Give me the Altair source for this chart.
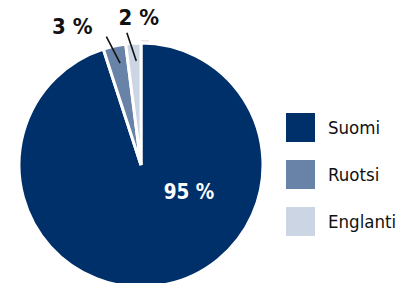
import math
import altair as alt
import pandas as pd

categories = ["Suomi", "Ruotsi", "Englanti"]
values = [95, 3, 2]
labels = ["95 %", "3 %", "2 %"]
colors = ["#003069", "#6882a8", "#cbd5e3"]

# layout / style constants (chart coordinates, page minus 8px margin)
CX, CY, R = 133, 157, 122
LEADER_R1, LEADER_R2 = 104, 133
LEADER_IN_DEG, LEADER_OUT_DEG = 1.0, -2.5
LABEL_OFFSETS = {"Ruotsi": (-34, -10), "Englanti": (12, -15)}
INNER_LABEL = (48, 28)

total = sum(values)
cum = 0
mids = []
for v in values:
    mids.append((cum + v / 2) / total * 360)
    cum += v

df = pd.DataFrame({"cat": categories, "val": values, "ord": list(range(len(values))), "label": labels})

leaders = []
outer_labels = []
for c, m, lab in zip(categories, mids, labels):
    if c not in LABEL_OFFSETS:
        continue
    a1 = math.radians(m + LEADER_IN_DEG)
    a2 = math.radians(m + LEADER_OUT_DEG)
    x1, y1 = CX + LEADER_R1 * math.sin(a1), CY - LEADER_R1 * math.cos(a1)
    x2, y2 = CX + LEADER_R2 * math.sin(a2), CY - LEADER_R2 * math.cos(a2)
    leaders.append({"x": x1, "y": y1, "x2": x2, "y2": y2})
    dx, dy = LABEL_OFFSETS[c]
    outer_labels.append({"x": x2 + dx, "y": y2 + dy, "label": lab})
inner_labels = [{"x": CX + INNER_LABEL[0], "y": CY + INNER_LABEL[1], "label": labels[0]}]

color_scale = alt.Scale(domain=categories, range=colors)

ring = alt.Chart(pd.DataFrame({"v": [1]})).mark_arc(
    radius=R + 3, fill="#e4e4e4", strokeWidth=0
).encode(theta=alt.Theta("v:Q"), x=alt.value(CX), y=alt.value(CY))

ring_gap = alt.Chart(pd.DataFrame({"v": [1]})).mark_arc(
    radius=R + 1.5, fill="white"
).encode(theta=alt.Theta("v:Q"), x=alt.value(CX), y=alt.value(CY))

pie = alt.Chart(df).mark_arc(radius=R, stroke="white", strokeWidth=3).encode(
    theta=alt.Theta("val:Q", stack=True),
    order=alt.Order("ord:Q"),
    color=alt.Color(
        "cat:N",
        scale=color_scale,
        sort=categories,
        legend=alt.Legend(
            title=None,
            orient="none",
            legendX=278,
            legendY=105,
            symbolType="square",
            symbolSize=841,
            symbolStrokeWidth=0,
            symbolOpacity=1,
            rowPadding=18,
            labelOffset=13,
            labelFont="DejaVu Sans Condensed",
            labelFontSize=18.5,
            labelColor="#111111",
            padding=0,
        ),
    ),
    x=alt.value(CX),
    y=alt.value(CY),
)

rules = alt.Chart(pd.DataFrame(leaders)).mark_rule(color="#111111", strokeWidth=1.6).encode(
    x=alt.X("x:Q", scale=None), y=alt.Y("y:Q", scale=None),
    x2="x2:Q", y2="y2:Q",
)

outer_text = alt.Chart(pd.DataFrame(outer_labels)).mark_text(
    font="DejaVu Sans Condensed", fontWeight="bold", fontSize=22, color="#111111",
    align="center", baseline="middle",
).encode(x=alt.X("x:Q", scale=None), y=alt.Y("y:Q", scale=None), text="label:N")

inner_text = alt.Chart(pd.DataFrame(inner_labels)).mark_text(
    font="DejaVu Sans Condensed", fontWeight="bold", fontSize=20.5, color="white",
    align="center", baseline="middle",
).encode(x=alt.X("x:Q", scale=None), y=alt.Y("y:Q", scale=None), text="label:N")

chart = alt.layer(ring, ring_gap, pie, rules, outer_text, inner_text).properties(
    width=393, height=275, padding=0, autosize=alt.AutoSizeParams(type="none")
).configure_view(stroke=None)

chart.save("out.html", embed_options={"renderer": "svg", "actions": False})
